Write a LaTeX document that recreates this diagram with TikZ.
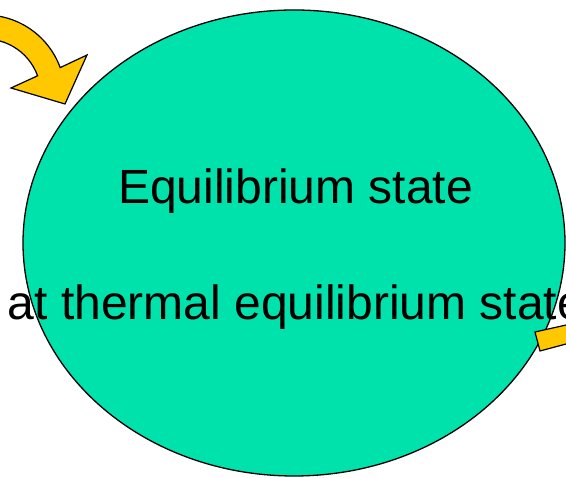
\documentclass[tikz,border=0pt]{standalone}
\usepackage{fontspec}
\setmainfont{Liberation Sans}
\usetikzlibrary{shapes.geometric}
\definecolor{eqgreen}{RGB}{0,226,172}
\definecolor{arrowyellow}{RGB}{255,200,0}
\tikzset{
  stateblob/.style={ellipse, draw=black, line width=1.3pt, fill=eqgreen, inner sep=0pt,
    minimum width=542pt, minimum height=466pt},
  blockarrow/.style={draw=black, line width=1.2pt, fill=arrowyellow, line join=miter},
  bigtext/.style={anchor=base west, inner sep=0pt, font=\fontsize{48}{57}\selectfont}
}
\begin{document}
\begin{tikzpicture}[x=1pt,y=1pt]
\useasboundingbox (0,0) rectangle (566,478);
\clip (0,0) rectangle (566,478);
\node[stateblob] (blob) at (294,235) {};
% incoming curved arrow (top left)
\draw[blockarrow] (-28.9,461.8) arc[start angle=100, end angle=20, radius=80pt]
  -- (87,423) -- (65,374) -- (11,390) -- (37.6,402.2)
  arc[start angle=20, end angle=100, radius=56pt] -- cycle;
% tail of outgoing arrow (right)
\draw[blockarrow] (535,146) -- (575,155) -- (575,136.4) -- (540,127) -- cycle;
\node[bigtext] (t1) at (118,274) {Equilibrium state};
\node[bigtext] (t2) at (7.6,158) {at thermal equilibrium state};
\end{tikzpicture}
\end{document}
